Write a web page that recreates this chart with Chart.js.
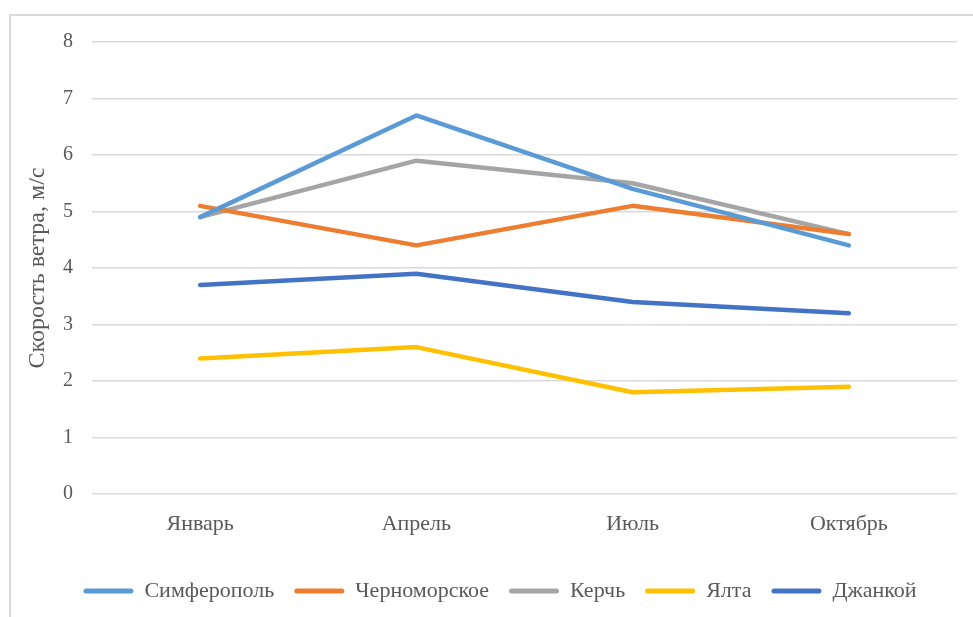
<!DOCTYPE html>
<html lang="ru">
<head>
<meta charset="utf-8">
<title>Скорость ветра по месяцам</title>
<script src="https://cdn.jsdelivr.net/npm/chart.js@4"></script>
<style>
  html, body { margin: 0; padding: 0; background: #ffffff; overflow: hidden; }
  #wrap { width: 973px; height: 617px; }
</style>
</head>
<body>
<div id="wrap"><canvas id="chart" width="973" height="617"></canvas></div>
<script>
// Months on the category axis
const months = ['Январь', 'Апрель', 'Июль', 'Октябрь'];

// Mean wind speed, m/s, per station
const simferopol    = [4.9, 6.7, 5.4, 4.4];
const chernomorskoe = [5.1, 4.4, 5.1, 4.6];
const kerch         = [4.9, 5.9, 5.5, 4.6];
const yalta         = [2.4, 2.6, 1.8, 1.9];
const dzhankoy      = [3.7, 3.9, 3.4, 3.2];

// Value axis range and step
const yMin = 0;
const yMax = 8;
const yStep = 1;

const textColor = '#595959';
const gridColor = '#d9d9d9';
const serif = '"Liberation Serif", "Times New Roman", serif';

function series(label, data, color) {
  return {
    label: label,
    data: data,
    borderColor: color,
    backgroundColor: color,
    borderWidth: 4.5,
    borderCapStyle: 'round',
    borderJoinStyle: 'round',
    pointRadius: 0,
    pointHoverRadius: 0,
    tension: 0,
    fill: false
  };
}

// Thin frame along the top and left edges of the chart box
const framePlugin = {
  id: 'frame',
  beforeDraw(chart) {
    const ctx = chart.ctx;
    ctx.save();
    ctx.strokeStyle = '#d9d9d9';
    ctx.lineWidth = 2;
    ctx.beginPath();
    ctx.moveTo(10, chart.height + 5);
    ctx.lineTo(10, 15);
    ctx.lineTo(chart.width + 5, 15);
    ctx.stroke();
    ctx.restore();
  }
};

new Chart(document.getElementById('chart'), {
  type: 'line',
  data: {
    labels: months,
    datasets: [
      series('Симферополь', simferopol, '#5B9BD5'),
      series('Черноморское', chernomorskoe, '#ED7D31'),
      series('Керчь', kerch, '#A5A5A5'),
      series('Ялта', yalta, '#FFC000'),
      series('Джанкой', dzhankoy, '#4472C4')
    ]
  },
  options: {
    responsive: false,
    devicePixelRatio: 1,
    animation: false,
    layout: { padding: { left: 43, right: 16, top: 42, bottom: 5 } },
    plugins: {
      tooltip: { enabled: false },
      legend: {
        position: 'bottom',
        labels: {
          font: { family: serif, size: 22 },
          color: textColor,
          boxWidth: 50,
          boxHeight: 5,
          padding: 20,
          generateLabels(chart) {
            const items = Chart.defaults.plugins.legend.labels.generateLabels(chart);
            items.forEach(it => { it.lineWidth = 0; it.borderRadius = 2.5; });
            return items;
          }
        }
      }
    },
    scales: {
      x: {
        type: 'category',
        offset: true,
        afterFit(scale) { scale.height = 66; },
        grid: { display: false, drawTicks: false },
        border: { display: false },
        ticks: {
          font: { family: serif, size: 22 },
          color: textColor,
          padding: 17,
          maxRotation: 0
        }
      },
      y: {
        min: yMin,
        max: yMax,
        afterFit(scale) { scale.width = 49; },
        grid: { color: gridColor, lineWidth: 1.5, drawTicks: false },
        border: { display: false },
        ticks: {
          stepSize: yStep,
          font: { family: serif, size: 20 },
          color: textColor,
          padding: 19
        },
        title: {
          display: true,
          text: 'Скорость ветра, м/с',
          font: { family: serif, size: 24 },
          color: textColor,
          padding: { top: -20, bottom: 4 }
        }
      }
    }
  },
  plugins: [framePlugin]
});
</script>
</body>
</html>
